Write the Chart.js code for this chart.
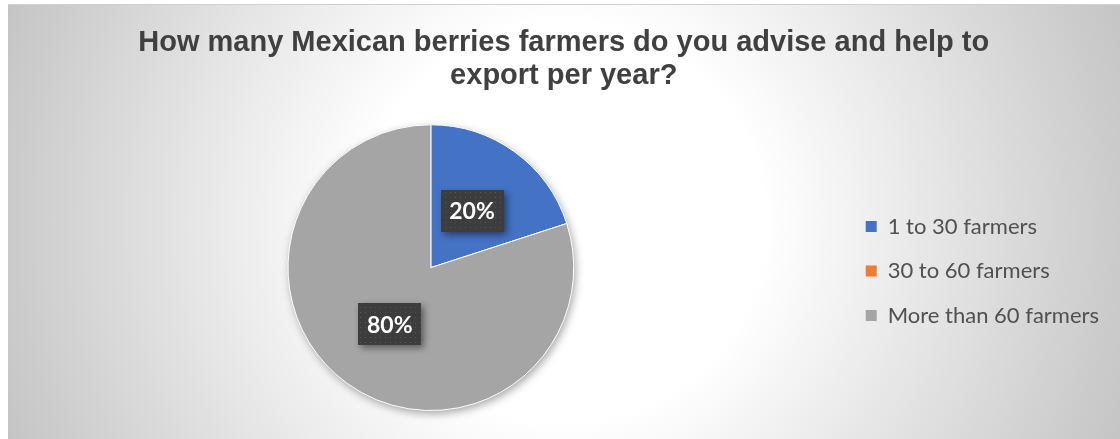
<!DOCTYPE html>
<html>
<head>
<meta charset="utf-8">
<script src="https://cdn.jsdelivr.net/npm/chart.js@4.4.1/dist/chart.umd.min.js"></script>
<style>
  html, body { margin: 0; padding: 0; background: #fff; }
  #box {
    position: absolute; left: 8px; top: 4px; width: 1112px; height: 434px;
    border-top: 1px solid #d0d0d0;
    background: radial-gradient(circle 600px at 556px 217px, #ffffff 0px, #ffffff 200px, #c4c4c4 600px);
  }
  #pie { position: absolute; left: 0; top: 0; }
</style>
</head>
<body>
<div id="box"><canvas id="pie" width="1112" height="434"></canvas></div>
<script>
const titleLines = ['How many Mexican berries farmers do you advise and help to', 'export per year?'];
const categories = ['1 to 30 farmers', '30 to 60 farmers', 'More than 60 farmers'];
const shares = [20, 0, 80];
const sliceColors = ['#4472c4', '#ed7d31', '#a5a5a5'];

// dotted dark fill used behind the percentage labels
const dots = document.createElement('canvas');
dots.width = 5; dots.height = 5;
const dctx = dots.getContext('2d');
dctx.fillStyle = '#3d3d3d';
dctx.fillRect(0, 0, 5, 5);
dctx.fillStyle = '#555555';
dctx.fillRect(2, 2, 1, 1);

const pieShadow = {
  id: 'pieShadow',
  beforeDatasetsDraw(chart) {
    const arc = chart.getDatasetMeta(0).data[0];
    if (!arc) return;
    const {x, y, outerRadius} = arc.getProps(['x', 'y', 'outerRadius'], true);
    const ctx = chart.ctx;
    ctx.save();
    ctx.shadowColor = 'rgba(0,0,0,0.35)';
    ctx.shadowBlur = 9;
    ctx.shadowOffsetX = 2;
    ctx.shadowOffsetY = 3;
    ctx.fillStyle = '#a5a5a5';
    ctx.beginPath();
    ctx.arc(x, y, outerRadius, 0, Math.PI * 2);
    ctx.fill();
    ctx.restore();
  }
};

const sliceLabels = {
  id: 'sliceLabels',
  afterDatasetsDraw(chart) {
    const ctx = chart.ctx;
    const meta = chart.getDatasetMeta(0);
    meta.data.forEach((arc, i) => {
      const v = shares[i];
      if (!v) return;
      const p = arc.getProps(['x', 'y', 'startAngle', 'endAngle', 'outerRadius'], true);
      const mid = (p.startAngle + p.endAngle) / 2;
      const r = p.outerRadius * 0.49;
      const cx = p.x + Math.cos(mid) * r;
      const cy = p.y + Math.sin(mid) * r;
      const w = 63, h = 42;
      ctx.save();
      ctx.shadowColor = 'rgba(0,0,0,0.45)';
      ctx.shadowBlur = 7;
      ctx.shadowOffsetX = 3;
      ctx.shadowOffsetY = 3;
      ctx.fillStyle = ctx.createPattern(dots, 'repeat');
      ctx.fillRect(Math.round(cx - w / 2), Math.round(cy - h / 2), w, h);
      ctx.restore();
      ctx.save();
      ctx.fillStyle = '#ffffff';
      ctx.font = 'bold 23px Lato, "Open Sans", sans-serif';
      ctx.textAlign = 'center';
      ctx.textBaseline = 'middle';
      ctx.fillText(v + '%', cx, cy + 1);
      ctx.restore();
    });
  }
};

const defaultLabels = Chart.overrides.pie.plugins.legend.labels.generateLabels;

new Chart('pie', {
  type: 'pie',
  data: {
    labels: categories,
    datasets: [{
      data: shares,
      backgroundColor: sliceColors,
      borderColor: '#ffffff',
      borderWidth: 1
    }]
  },
  options: {
    responsive: false,
    animation: false,
    layout: { padding: { left: 10.5, right: 11, top: 0, bottom: 28 } },
    plugins: {
      title: {
        display: true,
        text: titleLines,
        color: '#404040',
        font: { family: '"Liberation Sans", Arial, sans-serif', size: 29, weight: 'bold', lineHeight: 1.16 },
        padding: { top: 21, bottom: 31 }
      },
      legend: {
        position: 'right',
        // empty legend title only pushes the items down to the pie's middle
        title: { display: true, text: ' ', font: { size: 1, lineHeight: 1 }, padding: { top: 0, bottom: 125 } },
        labels: {
          boxWidth: 11,
          boxHeight: 11,
          padding: 22.5,
          color: '#505050',
          font: { family: 'Lato, "Open Sans", sans-serif', size: 22 },
          generateLabels(chart) {
            return defaultLabels(chart).map(l => Object.assign(l, { lineWidth: 0, strokeStyle: 'rgba(0,0,0,0)', hidden: false }));
          }
        }
      },
      tooltip: { enabled: false }
    }
  },
  plugins: [pieShadow, sliceLabels]
});
</script>
</body>
</html>
